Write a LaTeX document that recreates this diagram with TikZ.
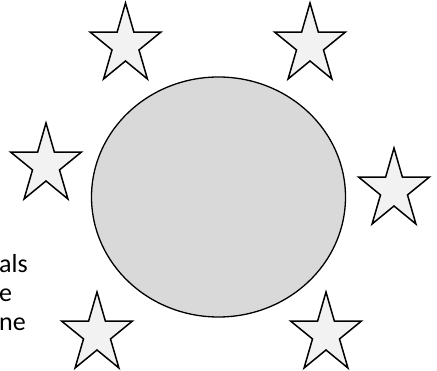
\documentclass[tikz,border=0pt]{standalone}
\usepackage{fontspec}
\setmainfont{Carlito}
\usetikzlibrary{calc}
\tikzset{
  starshape/.style={draw=black, fill=black!5, line width=1.5pt, line join=miter},
  bigdisc/.style={draw=black, fill=black!15, line width=1.3pt},
  lbl/.style={anchor=base west, inner sep=0pt, font=\fontsize{26}{30}\selectfont}
}
\newcommand{\mystar}[2]{%
  \draw[starshape] ($(#1,#2)+(-90:37.3 and 42)$)
    -- ($(#1,#2)+(-126:14.2 and 16)$)
    -- ($(#1,#2)+(-162:37.3 and 42)$)
    -- ($(#1,#2)+(-198:14.2 and 16)$)
    -- ($(#1,#2)+(-234:37.3 and 42)$)
    -- ($(#1,#2)+(-270:14.2 and 16)$)
    -- ($(#1,#2)+(-306:37.3 and 42)$)
    -- ($(#1,#2)+(-342:14.2 and 16)$)
    -- ($(#1,#2)+(-18:37.3 and 42)$)
    -- ($(#1,#2)+(-54:14.2 and 16)$)
    -- cycle;}
\begin{document}
\begin{tikzpicture}[x=1pt,y=-1pt]
\useasboundingbox (0,0) rectangle (437,371);
\draw[bigdisc] (218.5,197) ellipse [x radius=127, y radius=120];
\mystar{125.5}{45}
\mystar{310}{45}
\mystar{46}{165}
\mystar{394}{190}
\mystar{97}{334}
\mystar{326}{334}
\node[lbl] (t1) at (-1,273) {als};
\node[lbl] (t2) at (-1,302) {e};
\node[lbl] (t3) at (-1,331) {ne};
\end{tikzpicture}
\end{document}
